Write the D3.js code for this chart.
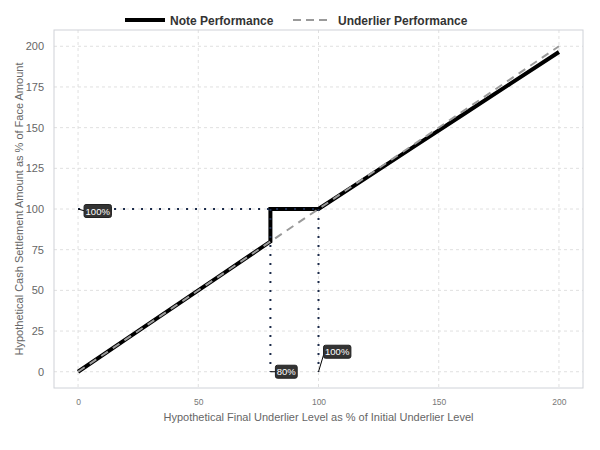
<!DOCTYPE html>
<html><head><meta charset="utf-8">
<script src="https://cdn.jsdelivr.net/npm/d3@7"></script>
<style>body{margin:0;background:#fff;font-family:"Liberation Sans",Arial,sans-serif;}</style>
</head><body><svg id="c" width="600" height="450"></svg>
<script>
const underlierX = [0, 20, 40, 60, 80, 100, 120, 140, 160, 180, 200];
const noteX = [0, 20, 40, 60, 80, 80, 100, 120, 140, 160, 180, 200];
const noteY = [0, 20, 40, 60, 80, 100, 100, 119.3, 138.6, 157.9, 177.2, 196.5];
const underlierY = [0, 20, 40, 60, 80, 100, 120, 140, 160, 180, 200];
const xTicks = [0, 50, 100, 150, 200];
const yTicks = [0, 25, 50, 75, 100, 125, 150, 175, 200];
const barrierLabels = [
  {x: 0, y: 100, text: "100%", dx: 6, dy: -2},
  {x: 80, y: 0, text: "80%", dx: 5, dy: 0},
  {x: 100, y: 0, text: "100%", dx: 5, dy: 20}
];

const svg = d3.select("#c");
const FF = "Liberation Sans, Arial, sans-serif";
const L = 54, R = 583, T = 30, B = 388;
const x = d3.scaleLinear().domain([-10, 210]).range([L, R]);
const y = d3.scaleLinear().domain([-10, 210]).range([B, T]);

// grid
const g = svg.append("g");
g.selectAll(".gx").data(xTicks).join("line")
  .attr("x1", d => x(d)).attr("x2", d => x(d)).attr("y1", T).attr("y2", B)
  .attr("stroke", "#e0e0e0").attr("stroke-dasharray", "3,3").attr("stroke-width", 1);
g.selectAll(".gy").data(yTicks).join("line")
  .attr("y1", d => y(d)).attr("y2", d => y(d)).attr("x1", L).attr("x2", R)
  .attr("stroke", "#e0e0e0").attr("stroke-dasharray", "3,3").attr("stroke-width", 1);
svg.append("rect").attr("x", L).attr("y", T).attr("width", R - L).attr("height", B - T)
  .attr("fill", "none").attr("stroke", "#cfd2d8").attr("stroke-width", 1);

// axes
const xa = svg.append("g").attr("transform", `translate(0,${B})`)
  .call(d3.axisBottom(x).tickValues(xTicks).tickSize(0).tickPadding(11));
xa.select(".domain").remove();
xa.attr("font-family", FF);
xa.selectAll("text").attr("fill", "#777").attr("font-size", 8.5);
const ya = svg.append("g").attr("transform", `translate(${L},0)`)
  .call(d3.axisLeft(y).tickValues(yTicks).tickSize(0).tickPadding(10));
ya.select(".domain").remove();
ya.attr("font-family", FF);
ya.selectAll("text").attr("fill", "#666").attr("font-size", 11);

svg.append("text").attr("x", (L + R) / 2).attr("y", 421).attr("text-anchor", "middle").attr("font-family", FF)
  .attr("fill", "#666").attr("font-size", 11).text("Hypothetical Final Underlier Level as % of Initial Underlier Level");
svg.append("text").attr("transform", `translate(23,${(T + B) / 2}) rotate(-90)`).attr("text-anchor", "middle").attr("font-family", FF)
  .attr("fill", "#666").attr("font-size", 11).text("Hypothetical Cash Settlement Amount as % of Face Amount");

// lines
const line = d3.line().x(d => x(d[0])).y(d => y(d[1]));
svg.append("path").datum(noteX.map((v, i) => [v, noteY[i]])).attr("d", line)
  .attr("fill", "none").attr("stroke", "#000").attr("stroke-width", 4);
svg.append("path").datum(underlierX.map((v, i) => [v, underlierY[i]])).attr("d", line)
  .attr("fill", "none").attr("stroke", "#9a9a9a").attr("stroke-width", 2).attr("stroke-dasharray", "8,6");

// dotted barrier lines
const dotCol = "#1c2b4a";
const dots = [[[0, 100], [100, 100]], [[80, 100], [80, 0]], [[100, 100], [100, 0]]];
dots.forEach(s => svg.append("path").datum(s).attr("d", line).attr("fill", "none")
  .attr("stroke", dotCol).attr("stroke-width", 2).attr("stroke-dasharray", "2,7"));

// labels
barrierLabels.forEach(l => {
  const px = x(l.x), py = y(l.y);
  const fs = 9.5;
  const tw = l.text.length * 5.6 + 5;
  const bx = px + l.dx, by = py - l.dy;
  svg.append("line").attr("x1", px).attr("y1", py).attr("x2", bx + 1).attr("y2", by)
    .attr("stroke", "#000").attr("stroke-width", 1);
  svg.append("rect").attr("x", bx).attr("y", by - 6.5).attr("width", tw).attr("height", 13)
    .attr("rx", 2).attr("fill", "#333").attr("stroke", "#222");
  svg.append("text").attr("x", bx + tw / 2).attr("y", by + 3.5).attr("text-anchor", "middle").attr("font-family", FF)
    .attr("fill", "#fff").attr("font-size", fs).text(l.text);
});

// legend
const lg = svg.append("g").attr("font-family", FF);
lg.append("line").attr("x1", 125).attr("x2", 165).attr("y1", 20).attr("y2", 20).attr("stroke", "#000").attr("stroke-width", 4);
lg.append("text").attr("x", 170).attr("y", 24.5).attr("font-size", 12).attr("font-weight", "bold").attr("fill", "#333").text("Note Performance");
lg.append("line").attr("x1", 293).attr("x2", 330).attr("y1", 20).attr("y2", 20).attr("stroke", "#9a9a9a").attr("stroke-width", 2).attr("stroke-dasharray", "8,5");
lg.append("text").attr("x", 338).attr("y", 24.5).attr("font-size", 12).attr("font-weight", "bold").attr("fill", "#333").text("Underlier Performance");
</script></body></html>
